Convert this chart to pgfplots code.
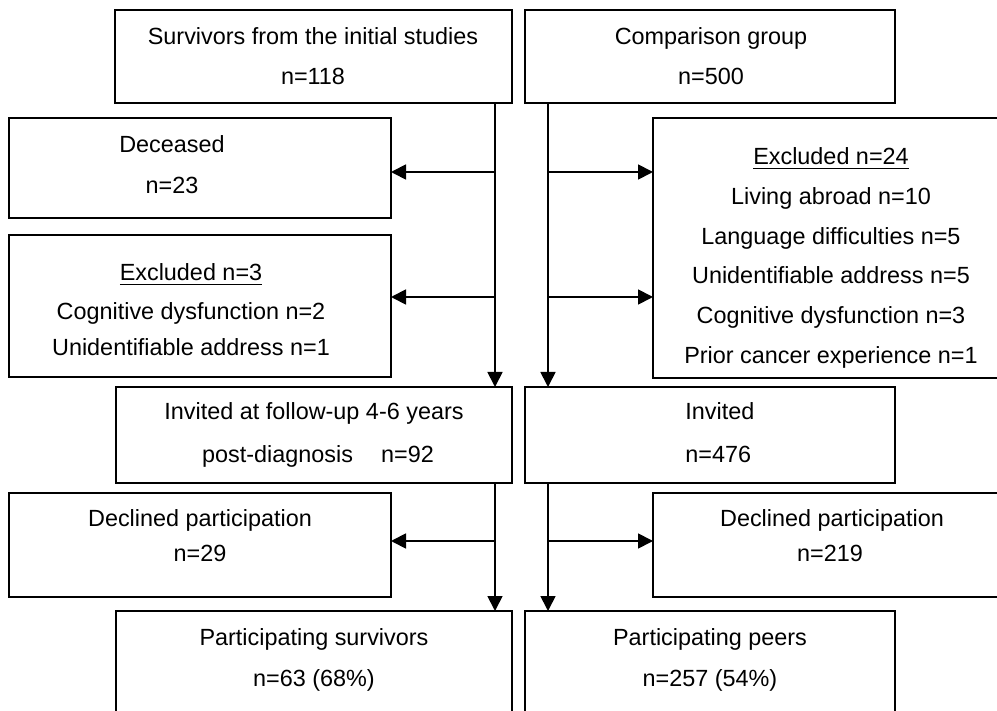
\documentclass[border=0pt]{standalone}
\usepackage{pgfplots}
\pgfplotsset{compat=1.18}
\usepackage{fontspec}
\setmainfont{Liberation Sans}
\usetikzlibrary{arrows.meta}
\tikzset{txt/.style={font=\fontsize{11.7}{14}\selectfont, anchor=base, inner sep=0pt},
  bx/.style={black,line width=0.9pt,mark=none,line join=miter,solid},
  ar/.style={black,line width=0.9pt,mark=none,solid,-{Triangle[length=7.5pt,width=7.5pt]}}}
\begin{document}
\begin{tikzpicture}
\begin{axis}[width=498.5pt,height=355.5pt,scale only axis,
  xmin=0,xmax=997,ymin=0,ymax=711,y dir=reverse,hide axis,clip=true]
% boxes
\addplot[bx] coordinates {(115,10)(512,10)(512,103)(115,103)} --cycle;
\addplot[bx] coordinates {(525,10)(895,10)(895,103)(525,103)} --cycle;
\addplot[bx] coordinates {(9,118)(391,118)(391,218)(9,218)} --cycle;
\addplot[bx] coordinates {(9,235)(391,235)(391,377)(9,377)} --cycle;
\addplot[bx] coordinates {(653,118)(1010,118)(1010,378)(653,378)} --cycle;
\addplot[bx] coordinates {(116,387)(512,387)(512,483)(116,483)} --cycle;
\addplot[bx] coordinates {(525,387)(895,387)(895,483)(525,483)} --cycle;
\addplot[bx] coordinates {(9,493)(391,493)(391,597)(9,597)} --cycle;
\addplot[bx] coordinates {(653,493)(1010,493)(1010,597)(653,597)} --cycle;
\addplot[bx] coordinates {(116,730)(116,611)(512,611)(512,730)};
\addplot[bx] coordinates {(525,730)(525,611)(895,611)(895,730)};
% arrows
\addplot[ar] coordinates {(495,103)(495,387)};
\addplot[ar] coordinates {(548,103)(548,387)};
\addplot[ar] coordinates {(495,172)(391,172)};
\addplot[ar] coordinates {(495,297)(391,297)};
\addplot[ar] coordinates {(548,172)(653,172)};
\addplot[ar] coordinates {(548,297)(653,297)};
\addplot[ar] coordinates {(495,483)(495,611)};
\addplot[ar] coordinates {(548,483)(548,611)};
\addplot[ar] coordinates {(495,541)(391,541)};
\addplot[ar] coordinates {(548,541)(653,541)};
% texts
\node[txt] at (axis cs:313,45) {Survivors from the initial studies};
\node[txt] at (axis cs:313,85) {n=118};
\node[txt] at (axis cs:711,45) {Comparison group};
\node[txt] at (axis cs:711,85) {n=500};
\node[txt] at (axis cs:172,153) {Deceased};
\node[txt] at (axis cs:172,194) {n=23};
\node[txt] at (axis cs:191,281) {\underline{Excluded n=3}};
\node[txt] at (axis cs:191,320) {Cognitive dysfunction n=2};
\node[txt] at (axis cs:191,356) {Unidentifiable address n=1};
\node[txt] at (axis cs:831,165) {\underline{Excluded n=24}};
\node[txt] at (axis cs:831,205) {Living abroad n=10};
\node[txt] at (axis cs:831,245) {Language difficulties n=5};
\node[txt] at (axis cs:831,284) {Unidentifiable address n=5};
\node[txt] at (axis cs:831,324) {Cognitive dysfunction n=3};
\node[txt] at (axis cs:831,364) {Prior cancer experience n=1};
\node[txt] at (axis cs:314,420) {Invited at follow-up 4-6 years};
\node[txt] at (axis cs:318,463) {post-diagnosis\hspace{1.2em}n=92};
\node[txt,anchor=base west] at (axis cs:685,420) {Invited};
\node[txt,anchor=base west] at (axis cs:685,463) {n=476};
\node[txt] at (axis cs:200,526) {Declined participation};
\node[txt] at (axis cs:200,561) {n=29};
\node[txt] at (axis cs:832,526) {Declined participation};
\node[txt] at (axis cs:830,561) {n=219};
\node[txt] at (axis cs:314,645) {Participating survivors};
\node[txt] at (axis cs:314,686) {n=63 (68\%)};
\node[txt] at (axis cs:710,645) {Participating peers};
\node[txt] at (axis cs:710,686) {n=257 (54\%)};
\end{axis}
\pgfresetboundingbox
\path (current axis.south west) rectangle (current axis.north east);
\end{tikzpicture}
\end{document}
